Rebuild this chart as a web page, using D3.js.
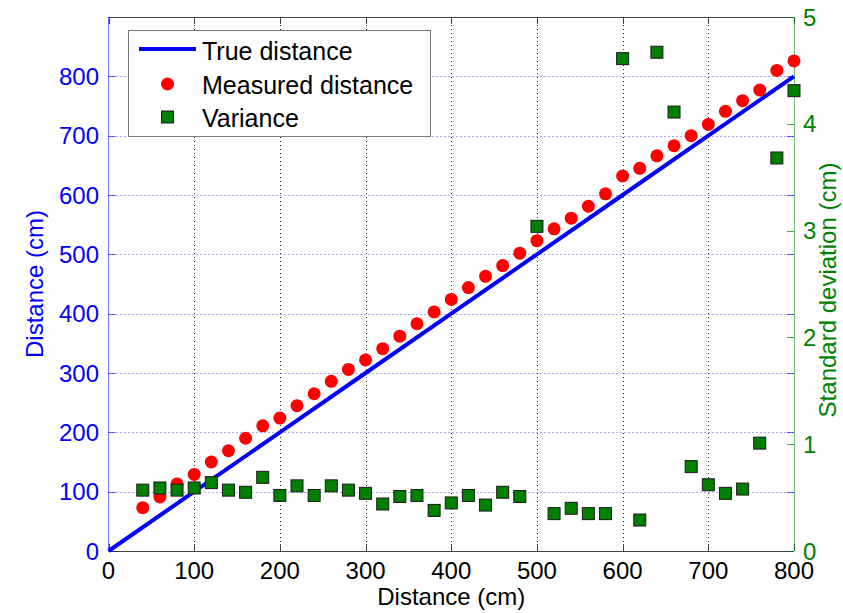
<!DOCTYPE html>
<html>
<head>
<meta charset="utf-8">
<script src="https://cdn.jsdelivr.net/npm/d3@7"></script>
<style>
  body { margin: 0; background: #fff; }
  svg text { font-family: "Liberation Sans", Arial, sans-serif; }
</style>
</head>
<body>
<div id="chart"></div>
<script>
// positions along the track (cm)
const positions = [40, 60, 80, 100, 120, 140, 160, 180, 200, 220, 240, 260, 280, 300, 320, 340, 360, 380, 400,
    420, 440, 460, 480, 500, 520, 540, 560, 580, 600, 620, 640, 660, 680, 700, 720, 740, 760, 780, 800];

const measured = [73, 91, 113, 129, 150, 169, 190, 211, 224, 245, 265, 286, 306, 322, 341, 362, 383, 403, 424,
    444, 463, 481, 502, 523, 543, 561, 581, 602, 632, 645, 666, 683, 700, 719, 741, 759, 777, 810, 826];

const stdDev = [0.57, 0.59, 0.57, 0.59, 0.64, 0.57, 0.55, 0.69, 0.52, 0.61, 0.52, 0.61, 0.57, 0.54, 0.44, 0.51, 0.52, 0.38, 0.45,
    0.52, 0.43, 0.55, 0.51, 3.04, 0.35, 0.40, 0.35, 0.35, 4.61, 0.29, 4.67, 4.11, 0.79, 0.62, 0.54, 0.58, 1.01, 3.68, 4.31];

const trueX = [0, 100, 200, 300, 400, 500, 600, 700, 800];
const trueY = [0, 100, 200, 300, 400, 500, 600, 700, 800];

const xTicks = [0, 100, 200, 300, 400, 500, 600, 700, 800];
const leftTicks = [0, 100, 200, 300, 400, 500, 600, 700, 800];
const rightTicks = [0, 1, 2, 3, 4, 5];

const legendLabels = ["True distance", "Measured distance", "Variance"];

const width = 843, height = 613;
const pL = 108.5, pR = 794, pT = 17, pB = 551;
const blue = "#0000ff", red = "#ff0000", green = "#007f00";

const x = d3.scaleLinear().domain([0, 800]).range([pL, pR]);
const yL = d3.scaleLinear().domain([0, 900]).range([pB, pT]);
const yR = d3.scaleLinear().domain([0, 5]).range([pB, pT]);

const svg = d3.select("#chart")
    .append("svg")
    .attr("width", width)
    .attr("height", height);

// grid
svg.append("g")
    .selectAll("line")
    .data(xTicks.filter(d => d > 0 && d < 800))
    .join("line")
    .attr("x1", d => Math.round(x(d)) + 0.5)
    .attr("x2", d => Math.round(x(d)) + 0.5)
    .attr("y1", pT)
    .attr("y2", pB)
    .attr("stroke", "#333")
    .attr("stroke-width", 1)
    .attr("stroke-dasharray", "1,3");

svg.append("g")
    .selectAll("line")
    .data(leftTicks.filter(d => d > 0))
    .join("line")
    .attr("x1", pL)
    .attr("x2", pR)
    .attr("y1", d => Math.round(yL(d)) + 0.5)
    .attr("y2", d => Math.round(yL(d)) + 0.5)
    .attr("stroke", "#5555ff")
    .attr("stroke-width", 1)
    .attr("stroke-dasharray", "1,3");

// top / bottom frame
svg.append("line")
    .attr("x1", pL).attr("x2", pR)
    .attr("y1", pT + 0.5).attr("y2", pT + 0.5)
    .attr("stroke", "#444");
svg.append("line")
    .attr("x1", pL).attr("x2", pR)
    .attr("y1", pB + 0.5).attr("y2", pB + 0.5)
    .attr("stroke", "#444");

// x ticks (inward, top and bottom)
const xt = svg.append("g");
xTicks.forEach(d => {
    const px = Math.round(x(d)) + 0.5;
    xt.append("line").attr("x1", px).attr("x2", px).attr("y1", pB).attr("y2", pB - 7).attr("stroke", "#444");
    xt.append("line").attr("x1", px).attr("x2", px).attr("y1", pT).attr("y2", pT + 7).attr("stroke", "#444");
    xt.append("text")
        .attr("x", x(d))
        .attr("y", 579)
        .attr("text-anchor", "middle")
        .style("font-size", "24px")
        .style("fill", "#000")
        .text(d);
});

// left axis
svg.append("line")
    .attr("x1", pL).attr("x2", pL)
    .attr("y1", pT).attr("y2", pB)
    .attr("stroke", blue).attr("stroke-opacity", 0.55);
const lt = svg.append("g");
leftTicks.forEach(d => {
    const py = Math.round(yL(d)) + 0.5;
    lt.append("line").attr("x1", pL).attr("x2", pL + 7).attr("y1", py).attr("y2", py)
        .attr("stroke", blue).attr("stroke-opacity", 0.6);
    lt.append("line").attr("x1", pR).attr("x2", pR - 7).attr("y1", py).attr("y2", py)
        .attr("stroke", blue).attr("stroke-opacity", 0.6);
    lt.append("text")
        .attr("x", 99)
        .attr("y", yL(d))
        .attr("dy", "0.36em")
        .attr("text-anchor", "end")
        .style("font-size", "24px")
        .style("fill", blue)
        .text(d);
});

// right axis
svg.append("line")
    .attr("x1", pR + 0.5).attr("x2", pR + 0.5)
    .attr("y1", pT).attr("y2", pB)
    .attr("stroke", green).attr("stroke-opacity", 0.55);
const rt = svg.append("g");
rightTicks.forEach(d => {
    const py = Math.round(yR(d)) + 0.5;
    rt.append("line").attr("x1", pR).attr("x2", pR - 7).attr("y1", py).attr("y2", py)
        .attr("stroke", green).attr("stroke-opacity", 0.7);
    rt.append("text")
        .attr("x", 803)
        .attr("y", yR(d))
        .attr("dy", "0.36em")
        .attr("text-anchor", "start")
        .style("font-size", "24px")
        .style("fill", green)
        .text(d);
});

// axis titles
svg.append("text")
    .attr("x", x(400))
    .attr("y", 605)
    .attr("text-anchor", "middle")
    .style("font-size", "24px")
    .style("fill", "#000")
    .text("Distance (cm)");

svg.append("text")
    .attr("transform", `translate(43, ${(pT + pB) / 2}) rotate(-90)`)
    .attr("text-anchor", "middle")
    .style("font-size", "24px")
    .style("fill", blue)
    .text("Distance (cm)");

svg.append("text")
    .attr("transform", `translate(836, ${(pT + pB) / 2 + 6}) rotate(-90)`)
    .attr("text-anchor", "middle")
    .style("font-size", "24px")
    .style("fill", green)
    .text("Standard deviation (cm)");

// true distance line
const line = d3.line().x((d, i) => x(trueX[i])).y(d => yL(d));
svg.append("path")
    .datum(trueY)
    .attr("d", line)
    .attr("fill", "none")
    .attr("stroke", blue)
    .attr("stroke-width", 4);

// measured distance
svg.append("g")
    .selectAll("circle")
    .data(measured)
    .join("circle")
    .attr("cx", (d, i) => x(positions[i]))
    .attr("cy", d => yL(d))
    .attr("r", 6.5)
    .attr("fill", red);

// standard deviation (right axis)
const sq = 12;
svg.append("g")
    .selectAll("rect")
    .data(stdDev)
    .join("rect")
    .attr("x", (d, i) => x(positions[i]) - sq / 2)
    .attr("y", d => yR(d) - sq / 2)
    .attr("width", sq)
    .attr("height", sq)
    .attr("fill", green)
    .attr("stroke", "#1a1a1a")
    .attr("stroke-width", 1);

// legend
const lg = svg.append("g");
lg.append("rect")
    .attr("x", 128.5).attr("y", 30.5)
    .attr("width", 302).attr("height", 106)
    .attr("fill", "#fff")
    .attr("stroke", "#777");
lg.append("line")
    .attr("x1", 139).attr("x2", 196)
    .attr("y1", 49).attr("y2", 49)
    .attr("stroke", blue).attr("stroke-width", 4);
lg.append("circle")
    .attr("cx", 167.5).attr("cy", 84)
    .attr("r", 6.5).attr("fill", red);
lg.append("rect")
    .attr("x", 167.5 - sq / 2).attr("y", 117 - sq / 2)
    .attr("width", sq).attr("height", sq)
    .attr("fill", green).attr("stroke", "#1a1a1a");
legendLabels.forEach((t, i) => {
    lg.append("text")
        .attr("x", 202)
        .attr("y", 60 + i * 33.5)
        .style("font-size", "25px")
        .style("fill", "#000")
        .text(t);
});
</script>
</body>
</html>
